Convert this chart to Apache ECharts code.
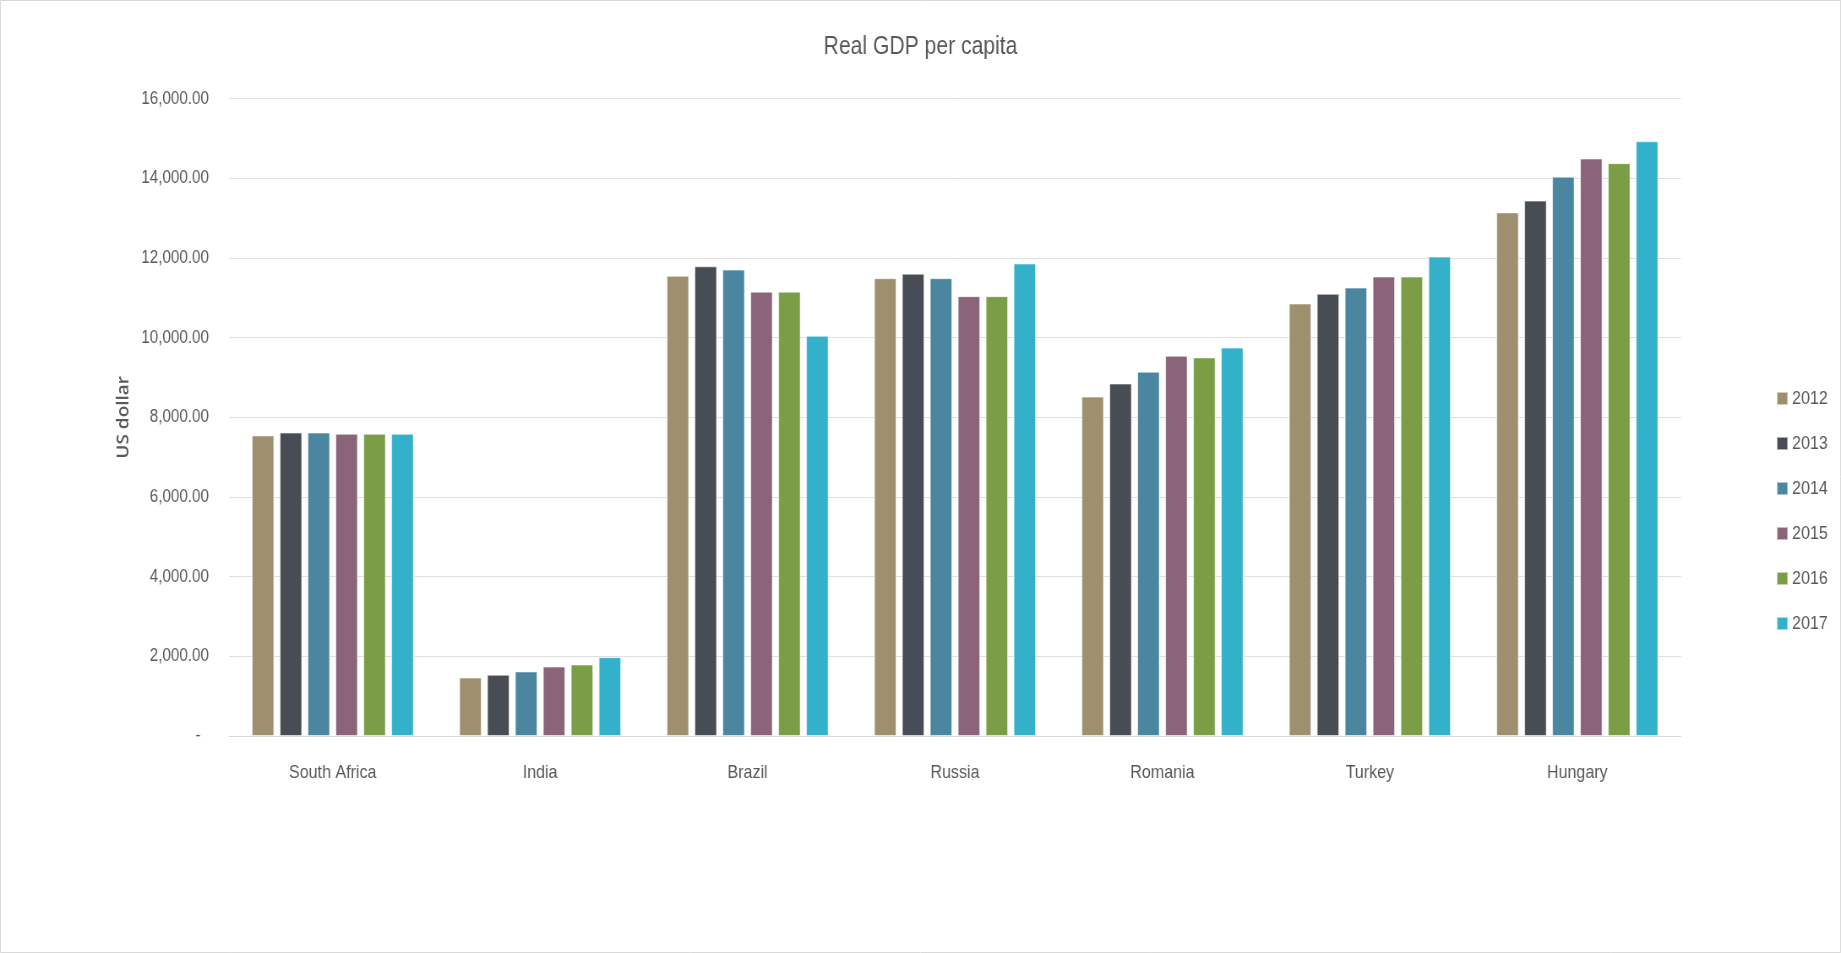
<!DOCTYPE html>
<html>
<head>
<meta charset="utf-8">
<title>Real GDP per capita</title>
<script src="https://cdn.jsdelivr.net/npm/echarts@6/dist/echarts.min.js"></script>
<style>
  html, body { margin: 0; padding: 0; background: #ffffff; overflow: hidden; }
  #frame { width: 1841px; height: 953px; overflow: hidden; position: relative; }
  /* the chart is laid out wider and squeezed horizontally, giving the condensed lettering */
  #chart { width: 2179px; height: 953px; transform-origin: 0 0; position: absolute; left: 0; top: 0; }
</style>
</head>
<body>
<div id="frame"><div id="chart"></div></div>
<script>
// Real GDP per capita (US dollar), by country and year
const countries = ['South Africa', 'India', 'Brazil', 'Russia', 'Romania', 'Turkey', 'Hungary'];
const years = ['2012', '2013', '2014', '2015', '2016', '2017'];

const gdp2012 = [7545, 1466, 11553, 11492, 8519, 10856, 13143];
const gdp2013 = [7617, 1538, 11789, 11605, 8847, 11102, 13439];
const gdp2014 = [7617, 1620, 11707, 11492, 9144, 11256, 14041];
const gdp2015 = [7586, 1743, 11154, 11041, 9544, 11533, 14495];
const gdp2016 = [7586, 1794, 11154, 11041, 9503, 11533, 14379];
const gdp2017 = [7586, 1979, 10046, 11861, 9749, 12035, 14929];

const yearValues = [gdp2012, gdp2013, gdp2014, gdp2015, gdp2016, gdp2017];
const yearColors = ['#9e906e', '#484c54', '#4b86a1', '#8b6479', '#7b9d46', '#33b1cb'];

const yMin = 0;
const yMax = 16000;
const yStep = 2000;

const textColor = '#595959';
const bodyFont = '"Liberation Sans", Arial, sans-serif';

// horizontal squeeze: layout width vs. visible width
const viewW = 1841;
const layoutW = 2179;
const sx = viewW / layoutW;
const X = px => px / sx;   // visible px -> layout px

const el = document.getElementById('chart');
el.style.transform = 'scaleX(' + sx + ')';

function formatTick(v) {
  if (v === 0) return '-  ';
  return v.toLocaleString('en-US', { minimumFractionDigits: 2, maximumFractionDigits: 2 });
}

const chart = echarts.init(el, null, { renderer: 'canvas', width: layoutW, height: 953 });

chart.setOption({
  backgroundColor: '#ffffff',
  animation: false,
  title: {
    text: 'Real GDP per capita',
    left: 'center',
    top: 35,
    padding: 0,
    textStyle: {
      color: textColor,
      fontFamily: bodyFont,
      fontSize: 25,
      fontWeight: 'normal'
    }
  },
  legend: {
    orient: 'vertical',
    left: X(1776),
    top: 389,
    padding: 0,
    itemWidth: X(11),
    itemHeight: 13,
    itemGap: 26,
    icon: 'rect',
    selectedMode: false,
    textStyle: {
      color: textColor,
      fontFamily: bodyFont,
      fontSize: 19,
      lineHeight: 19,
      padding: [0, 0, 0, 0]
    },
    data: years
  },
  grid: {
    left: X(229),
    right: X(160),
    top: 98.6,
    bottom: 217,
    containLabel: false
  },
  xAxis: {
    type: 'category',
    data: countries,
    axisLine: { lineStyle: { color: '#d9d9d9', width: 1 } },
    axisTick: { show: false },
    axisLabel: {
      color: textColor,
      fontFamily: bodyFont,
      fontSize: 19,
      margin: 27
    }
  },
  yAxis: {
    type: 'value',
    min: yMin,
    max: yMax,
    interval: yStep,
    name: 'US dollar',
    nameLocation: 'middle',
    nameRotate: 90,
    nameGap: 86,
    nameTextStyle: {
      color: textColor,
      fontFamily: '"Open Sans", "Noto Sans", sans-serif',
      fontSize: 19,
      fontWeight: 600
    },
    axisLine: { show: false },
    axisTick: { show: false },
    splitLine: { lineStyle: { color: '#e0e0e0', width: 1 } },
    axisLabel: {
      color: textColor,
      fontFamily: bodyFont,
      fontSize: 18,
      margin: X(20),
      formatter: formatTick
    }
  },
  graphic: [{
    type: 'rect',
    silent: true,
    shape: { x: 0.5, y: 0.5, width: layoutW - 1, height: 952 },
    style: { fill: 'none', stroke: '#d9d9d9', lineWidth: 1 }
  }],
  series: years.map((yr, i) => ({
    name: yr,
    type: 'bar',
    data: yearValues[i],
    barCategoryGap: '22%',
    barGap: '25%',
    itemStyle: {
      color: yearColors[i],
      borderColor: 'rgba(255,255,255,0.55)',
      borderWidth: 1
    }
  }))
});
</script>
</body>
</html>
